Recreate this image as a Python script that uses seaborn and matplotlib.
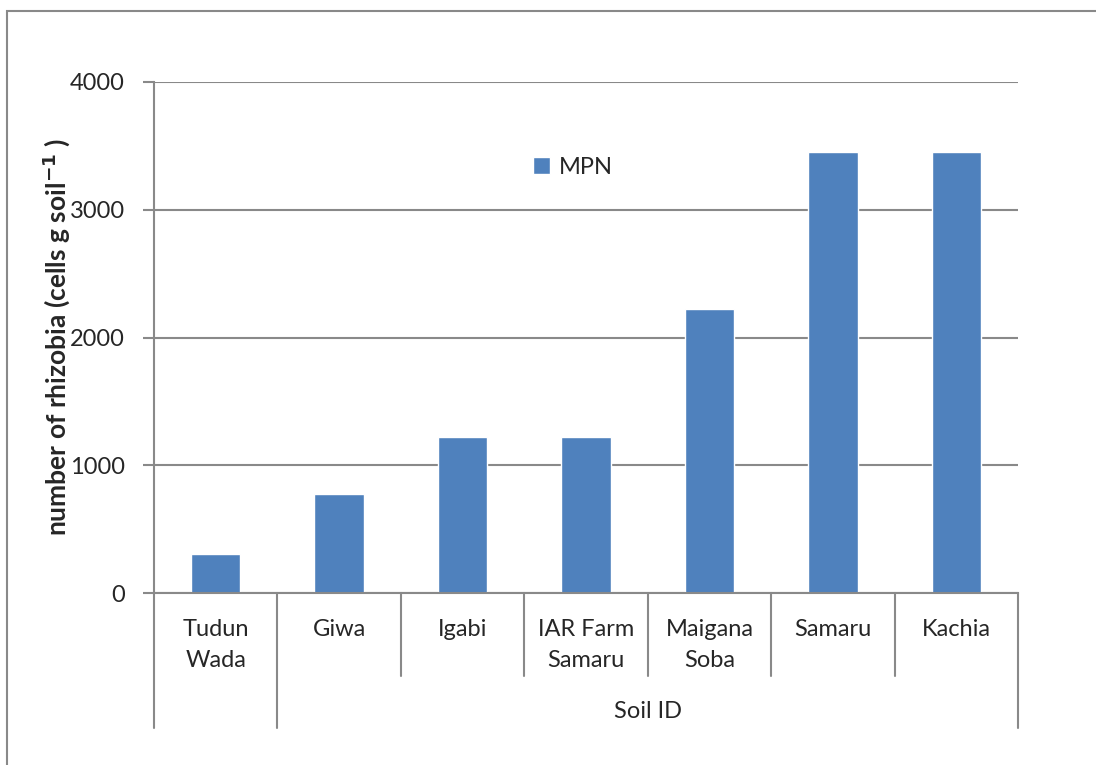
import matplotlib
matplotlib.use("Agg")
import matplotlib.pyplot as plt
import matplotlib.transforms as mtransforms
from matplotlib.patches import Rectangle
import seaborn as sns
import pandas as pd

# data
sites = ["Tudun\nWada", "Giwa", "Igabi", "IAR Farm\nSamaru", "Maigana\nSoba", "Samaru", "Kachia"]
mpn = [305, 775, 1220, 1220, 2220, 3455, 3455]
group_label = "Soil ID"
yticks = [0, 1000, 2000, 3000, 4000]

sns.set_theme(style="white")
plt.rcParams['font.family'] = ['Lato', 'DejaVu Sans']

bar_col = "#4F81BD"
line_col = "#898989"

df = pd.DataFrame({"site": sites, "MPN": mpn})

fig = plt.figure(figsize=(10.96, 7.65), dpi=100)
ax = fig.add_axes([154/1096, 1-593/765, (1018-154)/1096, (593-82)/765])

sns.barplot(data=df, x="site", y="MPN", color=bar_col, saturation=1, width=0.4,
            label="MPN", ax=ax)

ax.set_ylim(0, 4000)
ax.set_xlim(-0.5, len(sites)-0.5)
ax.set_yticks(yticks)
ax.set_yticklabels([str(v) for v in yticks], fontsize=17)
ax.set_xticks(range(len(sites)))
ax.set_xticklabels(sites, fontsize=17, linespacing=1.55)
ax.tick_params(axis="x", length=0, pad=19)
ax.tick_params(axis="y", length=8, width=1.5, color=line_col, pad=13, left=True)
ax.yaxis.grid(True, color=line_col, linewidth=1.5)
ax.set_axisbelow(True)
for s in ["top", "right"]:
    ax.spines[s].set_visible(False)
for s in ["left", "bottom"]:
    ax.spines[s].set_color(line_col)
    ax.spines[s].set_linewidth(1.5)
ax.set_xlabel("")
ax.set_ylabel("number of rhizobia (cells g soil$^{\\mathbf{-1}}$ )", fontsize=19,
              fontweight="bold", labelpad=-2)

# multi-level category separators below the axis
trans = mtransforms.blended_transform_factory(ax.transData, ax.transAxes)
short_y = -(676-593)/511
long_y = -(728-593)/511
for i in range(len(sites)+1):
    b = i - 0.5
    y_end = long_y if i in (0, 1, len(sites)) else short_y
    ax.plot([b, b], [0, y_end], color=line_col, lw=1.5, transform=trans, clip_on=False)
ax.text((0.5 + len(sites)-0.5)/2, -(712-593)/511, group_label, transform=trans,
        ha="center", va="center", fontsize=17)

ax.legend(loc="center", bbox_to_anchor=(573/1096, 1-167/765), bbox_transform=fig.transFigure,
          frameon=False, fontsize=17, handlelength=0.7, handleheight=0.7, handletextpad=0.4)

# chart area border (cropped in the original)
fig.patches.append(Rectangle((7/1096, -0.1), 1.2, 1.1-11/765, transform=fig.transFigure,
                             fill=False, edgecolor=line_col, linewidth=1.5))

fig.savefig("out.png", dpi=100)
